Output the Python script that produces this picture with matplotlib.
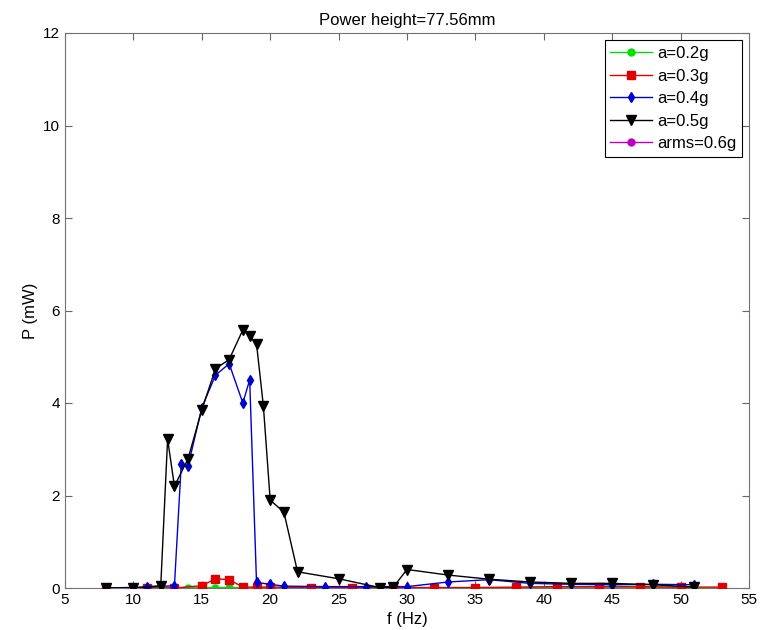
import matplotlib
matplotlib.use('Agg')
import matplotlib.pyplot as plt

plt.rcParams['font.family'] = ['Liberation Sans', 'DejaVu Sans']

# a=0.2g
f_02 = [8, 11, 13, 14, 15, 16, 17, 18, 19, 20, 23, 26, 29, 32, 35, 38, 41, 44, 47, 50, 53]
p_02 = [0, 0, 0, 0.01, 0.01, 0.01, 0.01, 0.01, 0.0, 0.0, 0, 0, 0, 0, 0, 0, 0, 0, 0, 0, 0]

# a=0.3g
f_03 = [8, 11, 13, 15, 16, 17, 18, 19, 20, 23, 26, 29, 32, 35, 38, 41, 44, 47, 50, 53]
p_03 = [0, 0, 0, 0.05, 0.2, 0.18, 0.02, 0.02, 0.02, 0.01, 0.01, 0.01, 0.01, 0.01, 0.02, 0.03, 0.03, 0.03, 0.02, 0.02]

# a=0.4g
f_04 = [8, 11, 13, 13.5, 14, 15, 16, 17, 18, 18.5, 19, 20, 21, 24, 27, 30, 33, 36, 39, 42, 45, 48, 51]
p_04 = [0, 0.02, 0.05, 2.69, 2.64, 3.9, 4.6, 4.85, 4.0, 4.5, 0.12, 0.08, 0.04, 0.03, 0.03, 0.03, 0.13, 0.18, 0.1, 0.08, 0.07, 0.08, 0.07]

# a=0.5g
f_05 = [8, 10, 12, 12.5, 13, 14, 15, 16, 17, 18, 18.5, 19, 19.5, 20, 21, 22, 25, 28, 29, 30, 33, 36, 39, 42, 45, 48, 51]
p_05 = [0, 0, 0.05, 3.22, 2.2, 2.8, 3.85, 4.74, 4.94, 5.58, 5.45, 5.28, 3.94, 1.9, 1.64, 0.35, 0.2, 0.01, 0.02, 0.4, 0.28, 0.19, 0.13, 0.1, 0.1, 0.07, 0.02]

# arms=0.6g
f_06 = [8, 11, 13, 15, 17, 20, 23, 26, 29, 32, 35, 38, 41, 44, 47, 50]
p_06 = [0, 0, 0, 0, 0, 0, 0, 0, 0, 0, 0, 0, 0, 0, 0, 0.01]

fig = plt.figure(figsize=(7.67, 6.3), dpi=100)
ax = fig.add_axes([65 / 767, 42 / 630, 684 / 767, 555 / 630])

ax.plot(f_06, p_06, color='#c000c0', marker='o', ms=5, lw=1, label='arms=0.6g', zorder=1)
ax.plot(f_02, p_02, color='#00e000', marker='o', ms=5, lw=1, label='a=0.2g', zorder=2)
ax.plot(f_03, p_03, color='#e00000', marker='s', ms=5.5, lw=1, label='a=0.3g', zorder=3)
ax.plot(f_04, p_04, color='#0000d0', marker='d', ms=5.5, lw=1, label='a=0.4g', zorder=4)
ax.plot(f_05, p_05, color='black', marker='v', ms=6.5, lw=1, label='a=0.5g', zorder=5)

ax.set_xlim(5, 55)
ax.set_ylim(0, 12)
ax.set_xticks(range(5, 56, 5))
ax.set_yticks(range(0, 13, 2))
ax.tick_params(direction='in', top=True, right=True, labelsize=11, color='0.4', length=5)
for s in ax.spines.values():
    s.set_color('0.45')

ax.set_title('Power height=77.56mm', fontsize=12, pad=6)
ax.set_xlabel('f (Hz)', fontsize=12)
ax.set_ylabel('P (mW)', fontsize=12)

h, l = ax.get_legend_handles_labels()
order = [1, 2, 3, 4, 0]
leg = ax.legend([h[i] for i in order], [l[i] for i in order], loc='upper right',
                fontsize=12, fancybox=False, framealpha=1, edgecolor='black',
                handlelength=2.5, borderaxespad=0.0, labelspacing=0.45,
                borderpad=0.35, handletextpad=0.3, bbox_to_anchor=(0.99, 0.987))
leg.get_frame().set_linewidth(0.8)

fig.savefig('out.png', dpi=100)
